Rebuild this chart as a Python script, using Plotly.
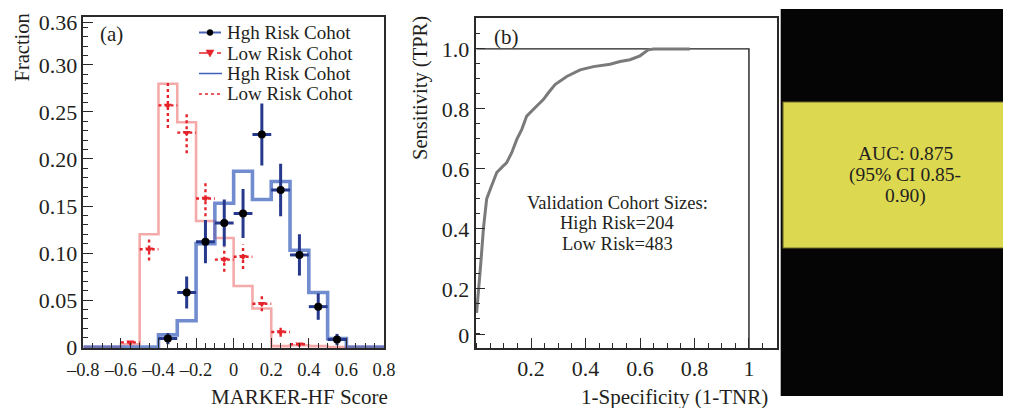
import plotly.graph_objects as go

# page body has an 8px margin, so the figure is drawn 8px in from the window corner
OFF = 8
W, H = 1011 - OFF, 408 - OFF

# ---------------- data: panel (a) ----------------
bin_edges = [-0.8, -0.7, -0.6, -0.5, -0.4, -0.3, -0.2, -0.1, 0.0,
             0.1, 0.2, 0.3, 0.4, 0.5, 0.6, 0.7, 0.8]
high_hist = [0, 0, 0, 0, 0.013, 0.028, 0.110, 0.153, 0.187, 0.157,
             0.176, 0.103, 0.058, 0.009, 0, 0]
low_hist = [0, 0, 0.003, 0.120, 0.280, 0.239, 0.134, 0.116, 0.065, 0.041,
            0.001, 0.002, 0.001, 0, 0, 0]

high_x = [-0.35, -0.25, -0.15, -0.05, 0.05, 0.15, 0.25, 0.35, 0.45, 0.55]
high_y = [0.009, 0.058, 0.112, 0.132, 0.142, 0.226, 0.167, 0.098, 0.043, 0.008]
high_err = [0.006, 0.017, 0.023, 0.025, 0.026, 0.033, 0.028, 0.022, 0.014, 0.006]

low_x = [-0.55, -0.45, -0.35, -0.25, -0.15, -0.05, 0.05, 0.15, 0.25, 0.35]
low_y = [0.005, 0.104, 0.257, 0.228, 0.158, 0.093, 0.096, 0.046, 0.016, 0.003]
low_err = [0.003, 0.012, 0.024, 0.022, 0.019, 0.013, 0.013, 0.008, 0.005, 0.002]
half_bin = 0.05

a_xticks = [-0.8, -0.6, -0.4, -0.2, 0, 0.2, 0.4, 0.6, 0.8]
a_xtext = ["\u20130.8", "\u20130.6", "\u20130.4", "\u20130.2", "0", "0.2", "0.4", "0.6", "0.8"]
a_yticks = [0, 0.05, 0.10, 0.15, 0.20, 0.25, 0.30, 0.345]
a_ytext = ["0", "0.05", "0.10", "0.15", "0.20", "0.25", "0.30", "0.36"]
legend_labels = ["Hgh Risk Cohot", "Low Risk Cohot", "Hgh Risk Cohot", "Low Risk Cohot"]

# ---------------- data: panel (b) ----------------
roc_fpr = [0.0, 0.003, 0.007, 0.015, 0.025, 0.037, 0.045, 0.056, 0.074, 0.098,
           0.11, 0.129, 0.148, 0.166, 0.184, 0.208, 0.245, 0.263, 0.288, 0.331,
           0.38, 0.429, 0.49, 0.527, 0.563, 0.6, 0.63, 0.65, 0.783]
roc_tpr = [0.12, 0.15, 0.2, 0.28, 0.4, 0.5, 0.52, 0.544, 0.588, 0.61,
           0.62, 0.654, 0.699, 0.732, 0.776, 0.798, 0.831, 0.853, 0.881, 0.908,
           0.93, 0.941, 0.949, 0.958, 0.964, 0.977, 0.997, 1.0, 1.0]
ideal_x = [0, 1, 1]
ideal_y = [1, 1, 0]
b_xticks = [0.2, 0.4, 0.6, 0.8, 1.0]
b_xtext = ["0.2", "0.4", "0.6", "0.8", "1"]
b_yticks = [0.047, 0.2, 0.4, 0.6, 0.8, 1.0]
b_ytext = ["0", "0.2", "0.4", "0.6", "0.8", "1.0"]
cohort_lines = ["Validation Cohort Sizes:", "High Risk=204", "Low Risk=483"]
auc_lines = ["AUC: 0.875", "(95% CI 0.85-", "0.90)"]

# ---------------- helpers (reference-pixel -> paper) ----------------
def px(x):
    return (x - OFF) / W

def py(y):
    return 1 - (y - OFF) / H

FONT = "Liberation Serif"
TXT = "#231f20"

fig = go.Figure()

# step histograms
fig.add_trace(go.Scatter(x=bin_edges, y=low_hist + [low_hist[-1]], mode="lines",
                         line=dict(shape="hv", color="rgba(236,100,100,0.55)", width=2.6),
                         xaxis="x", yaxis="y", hoverinfo="skip"))
fig.add_trace(go.Scatter(x=bin_edges, y=high_hist + [high_hist[-1]], mode="lines",
                         line=dict(shape="hv", color="rgba(60,95,190,0.72)", width=3.6),
                         xaxis="x", yaxis="y", hoverinfo="skip"))

# dotted red error bars built from the data
ex, ey = [], []
for c, v, e in zip(low_x, low_y, low_err):
    ex += [c, c, None, c - half_bin, c + half_bin, None]
    ey += [v - e, v + e, None, v, v, None]
fig.add_trace(go.Scatter(x=ex, y=ey, mode="lines",
                         line=dict(color="#e5232b", width=2.4, dash="dot"),
                         xaxis="x", yaxis="y", hoverinfo="skip"))
fig.add_trace(go.Scatter(x=low_x, y=low_y, mode="markers",
                         marker=dict(symbol="triangle-down", size=7, color="#e5232b"),
                         xaxis="x", yaxis="y"))

# blue points with error bars
fig.add_trace(go.Scatter(x=high_x, y=high_y, mode="markers",
                         marker=dict(symbol="circle", size=8, color="black"),
                         error_y=dict(type="data", array=high_err, color="#26398c",
                                      thickness=3, width=0),
                         error_x=dict(type="constant", value=half_bin, color="#26398c",
                                      thickness=3, width=0),
                         xaxis="x", yaxis="y"))

# ROC
fig.add_trace(go.Scatter(x=ideal_x, y=ideal_y, mode="lines",
                         line=dict(color="#1e1e1e", width=1.4),
                         xaxis="x2", yaxis="y2", hoverinfo="skip"))
fig.add_trace(go.Scatter(x=roc_fpr, y=roc_tpr, mode="lines",
                         line=dict(color="#7a7a7a", width=3),
                         xaxis="x2", yaxis="y2"))

axis_common = dict(showgrid=False, zeroline=False, showline=True, mirror=True,
                   automargin=False, tickangle=0,
                   linecolor="#2a2a2a", linewidth=1.5, ticks="inside",
                   tickcolor="#2a2a2a", tickwidth=1.2, ticklen=10)
tf_big = dict(family=FONT, size=22, color=TXT)
tf_x = dict(family=FONT, size=18.5, color=TXT)

fig.update_layout(
    template="none",
    width=W, height=H, autosize=False,
    margin=dict(l=0, r=0, t=0, b=0, pad=0),
    paper_bgcolor="white", plot_bgcolor="white",
    showlegend=False,
    xaxis=dict(domain=[px(83.3), px(384)], range=[-0.8, 0.8], tickmode="array",
               tickvals=a_xticks, ticktext=a_xtext, anchor="y", tickfont=tf_x,
               ticklabelstandoff=4,
               minor=dict(ticks="inside", tickmode="linear", tick0=0, dtick=0.05,
                          ticklen=5, tickcolor="#2a2a2a"),
               **axis_common),
    yaxis=dict(domain=[py(348), py(17)], range=[-0.001, 0.351], tickmode="array",
               tickvals=a_yticks, ticktext=a_ytext, anchor="x", tickfont=tf_big,
               minor=dict(ticks="inside", tickmode="linear", tick0=0, dtick=0.01,
                          ticklen=5, tickcolor="#2a2a2a"),
               **axis_common),
    xaxis2=dict(domain=[px(475.5), px(777)], range=[-0.004, 1.103], tickmode="array",
                tickvals=b_xticks, ticktext=b_xtext, anchor="y2", tickfont=tf_big,
                minor=dict(ticks="inside", tickmode="linear", tick0=0, dtick=0.05,
                           ticklen=5, tickcolor="#2a2a2a"),
                **axis_common),
    yaxis2=dict(domain=[py(348), py(18)], range=[0.003, 1.103], tickmode="array",
                tickvals=b_yticks, ticktext=b_ytext, anchor="x2", tickfont=tf_big,
                minor=dict(ticks="inside", tickmode="linear", tick0=0, dtick=0.05,
                           ticklen=5, tickcolor="#2a2a2a"),
                **axis_common),
)

shapes = []
# black panel and yellow box
shapes.append(dict(type="rect", xref="paper", yref="paper", x0=px(780.7), x1=px(1012),
                   y0=py(396), y1=py(9), fillcolor="#050505", line=dict(width=0), layer="below"))
shapes.append(dict(type="rect", xref="paper", yref="paper", x0=px(783), x1=px(1013),
                   y0=py(248), y1=py(102), fillcolor="#dcd84f",
                   line=dict(color="#6e6b2c", width=1.2)))

# legend icons
ly = [32.5, 53, 73.5, 94]
shapes.append(dict(type="line", xref="paper", yref="paper", x0=px(199), x1=px(221),
                   y0=py(ly[0]), y1=py(ly[0]), line=dict(color="#4a63b5", width=2)))
shapes.append(dict(type="circle", xref="paper", yref="paper", x0=px(207), x1=px(213),
                   y0=py(ly[0] + 3), y1=py(ly[0] - 3), fillcolor="black",
                   line=dict(color="black", width=0.5)))
shapes.append(dict(type="line", xref="paper", yref="paper", x0=px(199), x1=px(221),
                   y0=py(ly[1]), y1=py(ly[1]), line=dict(color="#e5232b", width=1.6, dash="dash")))
shapes.append(dict(type="path", xref="paper", yref="paper",
                   path=f"M {px(206)},{py(ly[1]-3)} L {px(214)},{py(ly[1]-3)} L {px(210)},{py(ly[1]+4)} Z",
                   fillcolor="#e5232b", line=dict(color="#e5232b", width=0.5)))
shapes.append(dict(type="line", xref="paper", yref="paper", x0=px(199), x1=px(222),
                   y0=py(ly[2]), y1=py(ly[2]), line=dict(color="#3f5fb8", width=1.5)))
shapes.append(dict(type="line", xref="paper", yref="paper", x0=px(199), x1=px(222),
                   y0=py(ly[3]), y1=py(ly[3]), line=dict(color="#e5232b", width=1.5, dash="dot")))
fig.update_layout(shapes=shapes)

ann = []
def text(s, x, y, xanchor="center", yanchor="middle", size=21, angle=0, color=TXT):
    ann.append(dict(text=s, x=px(x), y=py(y), xref="paper", yref="paper",
                    xanchor=xanchor, yanchor=yanchor, showarrow=False, textangle=angle,
                    borderpad=0, font=dict(family=FONT, size=size, color=color)))

for lab, yy in zip(legend_labels, ly):
    text(lab, 226, yy, xanchor="left", size=19)
text("(a)", 111, 34)
text("(b)", 506, 37)
text("Fraction", 21.5, 48, angle=-90, size=20.5)
text("MARKER-HF Score", 389, 397, xanchor="right")
text("Sensitivity (TPR)", 421, 88, angle=-90, size=20.5)
text("1-Specificity (1-TNR)", 769, 397, xanchor="right")
for s, yy in zip(cohort_lines, [203, 223.5, 244]):
    text(s, 617, yy, size=18.5)
for s, yy in zip(auc_lines, [153, 174.5, 196]):
    text(s, 905, yy, size=19.5)
fig.update_layout(annotations=ann)

fig.write_html("out.html")
